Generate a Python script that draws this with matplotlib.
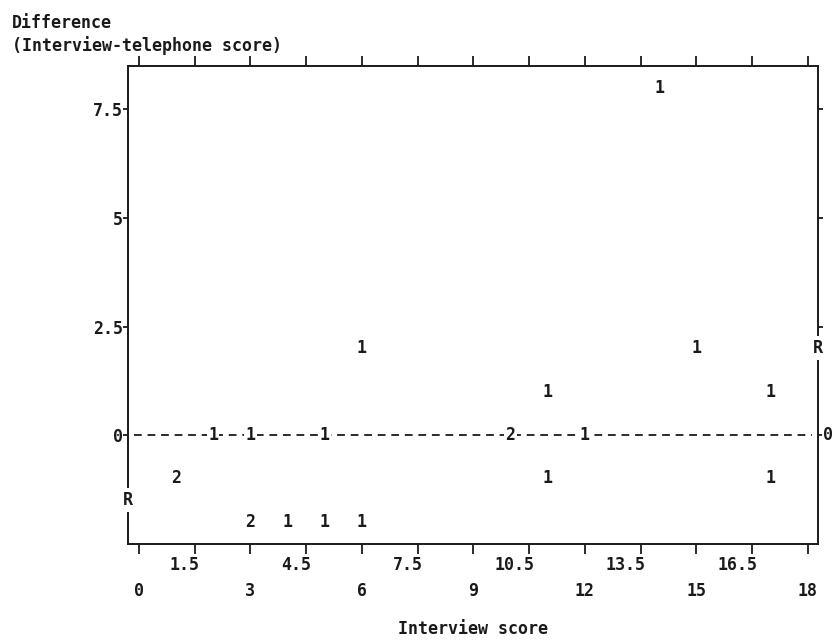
import matplotlib
matplotlib.use("Agg")
import matplotlib.pyplot as plt
import matplotlib.transforms as mtransforms

# 점 위치와 겹침 개수
interview = [14, 6, 15, 11, 17, 2, 3, 5, 10, 12, 1, 11, 17, 3, 4, 5, 6]
difference = [8, 2, 2, 1, 1, 0, 0, 0, 0, 0, -1, -1, -1, -2, -2, -2, -2]
counts = ["1", "1", "1", "1", "1", "1", "1", "1", "2", "1", "2", "1", "1", "2", "1", "1", "1"]

# 회귀선 양 끝 (R 표시)
reg_y = [-1.5, 2.0]

xmajor = [0, 3, 6, 9, 12, 15, 18]
xminor = [1.5, 4.5, 7.5, 10.5, 13.5, 16.5]
yticks = [0, 2.5, 5, 7.5]
ytick_labels = ["0", "2.5", "5", "7.5"]

ink = "#1a1a1a"
font = "DejaVu Sans Mono"
fs = 12
wt = "bold"

plt.rcParams["font.family"] = font
plt.rcParams["font.weight"] = wt
plt.rcParams["axes.labelweight"] = wt
fig = plt.figure(figsize=(8.32, 6.42), dpi=100)
ax = fig.add_axes([0.1538, 0.1526, 0.8293, 0.7446])
xlo, xhi = -0.29, 18.27
ax.set_xlim(xlo, xhi)
ax.set_ylim(-2.51, 8.5)

for s in ax.spines.values():
    s.set_color(ink)
    s.set_linewidth(1.4)

# 0 기준 점선
ax.plot([-0.12, 18.1], [0, 0], color=ink, lw=1.3, dashes=(4.3, 3.2), zorder=1)

box = dict(facecolor="white", edgecolor="none", pad=1.0)
for x, y, c in zip(interview, difference, counts):
    ax.text(x, y, c, ha="center", va="center", fontsize=fs, color=ink,
            bbox=box if y == 0 else None, zorder=4)

# 회귀선 끝 표시
ax.text(xlo, reg_y[0], "R", ha="center", va="center", fontsize=fs, color=ink,
        bbox=dict(facecolor="white", edgecolor="none", pad=2.0), clip_on=False, zorder=4)
ax.text(xhi, reg_y[1], "R", ha="center", va="center", fontsize=fs, color=ink,
        bbox=dict(facecolor="white", edgecolor="none", pad=2.0), clip_on=False, zorder=4)
ax.text(18.55, 0, "0", ha="center", va="center", fontsize=fs, color=ink,
        bbox=dict(facecolor="white", edgecolor="none", pad=1.0), clip_on=False, zorder=4)

ax.set_xticks(xmajor)
ax.set_xticklabels([str(v) for v in xmajor])
ax.set_xticks(xminor, minor=True)
ax.set_xticklabels([], minor=True)
ax.tick_params(axis="x", which="both", top=True, direction="out", length=7,
               width=1.3, color=ink, labelsize=fs, labelcolor=ink)
ax.tick_params(axis="x", which="major", pad=20)

# 윗줄 눈금 라벨: 마지막 글자가 눈금 아래에 오도록
minor_tr = mtransforms.offset_copy(ax.get_xaxis_transform(), fig=fig, x=5, y=-21, units="dots")
for v in xminor:
    ax.text(v, 0, str(v), transform=minor_tr, ha="right", va="center",
            fontsize=fs, color=ink, clip_on=False)

ax.set_yticks(yticks)
ax.set_yticklabels(ytick_labels)
ax.yaxis.set_minor_locator(matplotlib.ticker.NullLocator())
ax.tick_params(axis="y", right=True, direction="out", length=3.5, width=1.3,
               color=ink, labelsize=fs, labelcolor=ink, pad=0)

ax.set_xlabel("Interview score", fontsize=fs, color=ink, labelpad=15)
fig.text(12 / 832, 1 - 14 / 642, "Difference\n(Interview-telephone score)",
         ha="left", va="top", fontsize=fs, color=ink, linespacing=1.25)

fig.savefig("out.png", dpi=100, facecolor="white")
